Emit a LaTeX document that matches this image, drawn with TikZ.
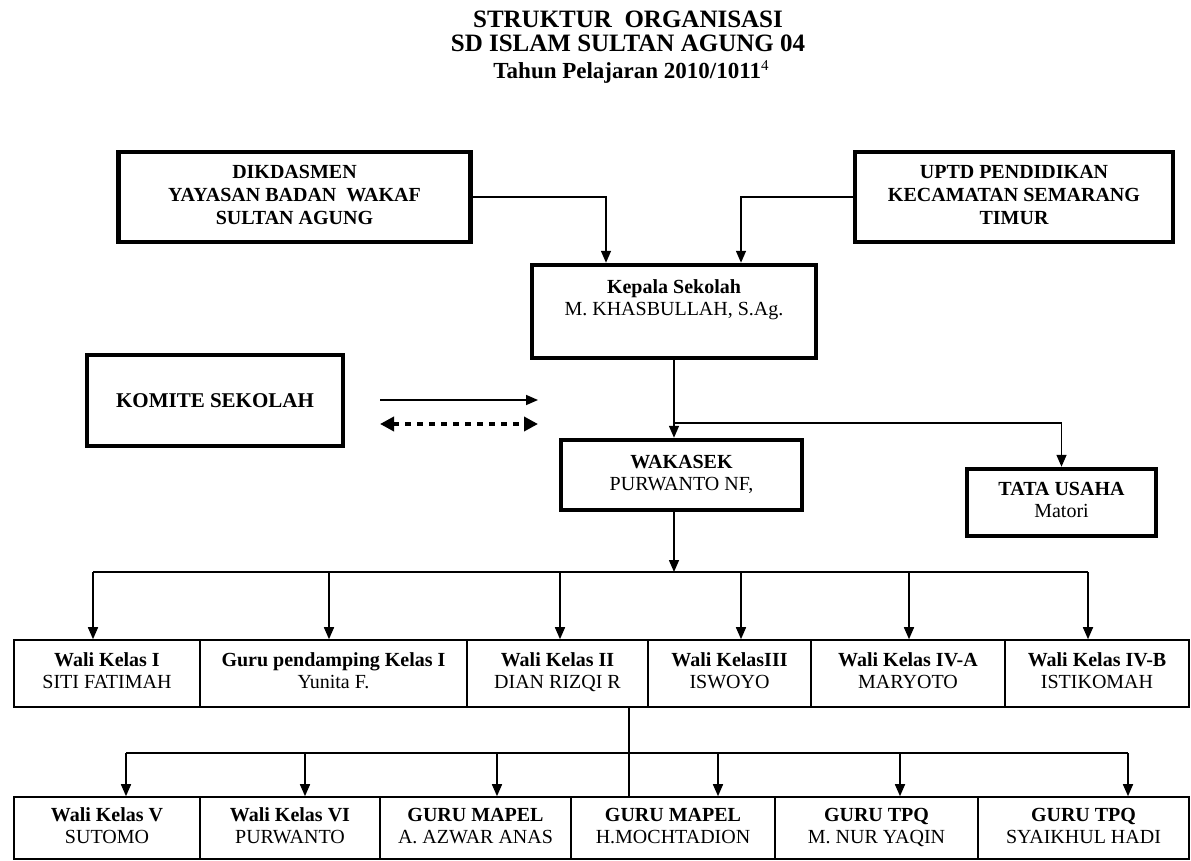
\documentclass[tikz,border=0pt]{standalone}
\usepackage{fontspec}
\setmainfont{Liberation Serif}
\usetikzlibrary{arrows.meta,positioning}

\newcommand{\isi}[2]{\textbf{#1}\strut\\#2\strut}

\begin{document}
\begin{tikzpicture}[x=1pt,y=-1pt,line width=1.6pt,
  font=\fontsize{20}{22}\selectfont,
  >={Triangle[length=12pt,width=10pt]},
  title/.style={anchor=base,inner sep=1pt,font=\fontsize{25}{28}\selectfont\bfseries},
  head box/.style={draw,line width=4.5pt,align=center,inner sep=0pt},
  row box/.style={draw,line width=1.6pt,align=center,inner sep=0pt,minimum height=#1}]

  \useasboundingbox (0,0) rectangle (1191,861);

  % judul
  \node[title] (t1) at (628,28) {STRUKTUR\ \ ORGANISASI};
  \node[title] (t2) at (628,52) {SD ISLAM SULTAN AGUNG 04};
  \node[title,font=\fontsize{23}{26}\selectfont\bfseries] (t3) at (631,79)
    {Tahun Pelajaran 2010/1011\raisebox{8pt}{\fontsize{15}{15}\selectfont\mdseries 4}};

  % atas
  \node[head box,minimum width=352,minimum height=90,font=\fontsize{20}{23}\selectfont\bfseries] (dik) at (294.5,197)
    {DIKDASMEN\strut\\YAYASAN BADAN\ \ WAKAF\strut\\SULTAN AGUNG\strut};
  \node[head box,minimum width=318,minimum height=90,font=\fontsize{20}{23}\selectfont\bfseries] (uptd) at (1014,197)
    {UPTD PENDIDIKAN\strut\\KECAMATAN SEMARANG\strut\\TIMUR\strut};
  \node[head box,minimum width=284,minimum height=93] (kep) at (674,311.5)
    {\isi{Kepala Sekolah}{M. KHASBULLAH, S.Ag.}\\ \strut};
  \node[head box,minimum width=256,minimum height=91,font=\fontsize{21}{24}\selectfont\bfseries] (kom) at (215,400.5)
    {KOMITE SEKOLAH};
  \node[head box,minimum width=241,minimum height=70] (wak) at (681.5,475)
    {\isi{WAKASEK}{PURWANTO NF,}};
  \node[head box,minimum width=189,minimum height=67] (tu) at (1061.5,502.5)
    {\isi{TATA USAHA}{Matori}};

  % baris 1
  \node[row box=67,minimum width=186] (r1) at (107,673.5) {\isi{Wali Kelas I}{SITI FATIMAH}};
  \node[row box=67,minimum width=267] (r2) at (333.5,673.5) {\isi{Guru pendamping Kelas I}{Yunita F.}};
  \node[row box=67,minimum width=181] (r3) at (557.5,673.5) {\isi{Wali Kelas II}{DIAN RIZQI R}};
  \node[row box=67,minimum width=163] (r4) at (729.5,673.5) {\isi{Wali KelasIII}{ISWOYO}};
  \node[row box=67,minimum width=194] (r5) at (908,673.5) {\isi{Wali Kelas IV-A}{MARYOTO}};
  \node[row box=67,minimum width=184] (r6) at (1097,673.5) {\isi{Wali Kelas IV-B}{ISTIKOMAH}};

  % baris 2
  \node[row box=62,minimum width=186] (s1) at (107,828) {\isi{Wali Kelas V}{SUTOMO}};
  \node[row box=62,minimum width=180] (s2) at (290,828) {\isi{Wali Kelas VI}{PURWANTO}};
  \node[row box=62,minimum width=191] (s3) at (475.5,828) {\isi{GURU MAPEL}{A. AZWAR ANAS}};
  \node[row box=62,minimum width=204] (s4) at (673,828) {\isi{GURU MAPEL}{H.MOCHTADION}};
  \node[row box=62,minimum width=203] (s5) at (876.5,828) {\isi{GURU TPQ}{M. NUR YAQIN}};
  \node[row box=62,minimum width=211] (s6) at (1083.5,828) {\isi{GURU TPQ}{SYAIKHUL HADI}};

  % titik bantu
  \coordinate (in1) at (606,0);
  \coordinate (in2) at (741,0);
  \coordinate (split) at (674,423);
  \coordinate (drop) at (629,0);
  \coordinate (ka) at (380,400);
  \coordinate (kb) at (538,400);
  \coordinate (kc) at (380,424);
  \coordinate (kd) at (538,424);
  \coordinate (b1) at (93,572);
  \coordinate (b2) at (329,572);
  \coordinate (b3) at (560,572);
  \coordinate (b4) at (741,572);
  \coordinate (b5) at (909,572);
  \coordinate (b6) at (1088,572);
  \coordinate (c1) at (126,753);
  \coordinate (c2) at (305,753);
  \coordinate (c3) at (497,753);
  \coordinate (c4) at (718,753);
  \coordinate (c5) at (900,753);
  \coordinate (c6) at (1128,753);

  % garis
  \draw[->] (dik.east) -| (in1 |- kep.north);
  \draw[->] (uptd.west) -| (in2 |- kep.north);
  \draw[->] (kep.south) -- (kep.south |- wak.north);
  \draw[->] (split) -| (tu.north);
  \draw[->] (ka) -- (kb);
  \draw[{Triangle[length=14pt,width=14pt]}-{Triangle[length=14pt,width=14pt]},line width=4.5pt,dash pattern=on 6pt off 6pt] (kc) -- (kd);

  \draw[->] (kep.south |- wak.south) -- (kep.south |- b1);
  \draw (b1) -- (b6);
  \draw[->] (b1) -- (b1 |- r1.north);
  \draw[->] (b2) -- (b2 |- r2.north);
  \draw[->] (b3) -- (b3 |- r3.north);
  \draw[->] (b4) -- (b4 |- r4.north);
  \draw[->] (b5) -- (b5 |- r5.north);
  \draw[->] (b6) -- (b6 |- r6.north);

  \draw (drop |- r3.south) -- (drop |- s4.north);
  \draw (c1) -- (c6);
  \draw[->] (c1) -- (c1 |- s1.north);
  \draw[->] (c2) -- (c2 |- s2.north);
  \draw[->] (c3) -- (c3 |- s3.north);
  \draw[->] (c4) -- (c4 |- s4.north);
  \draw[->] (c5) -- (c5 |- s5.north);
  \draw[->] (c6) -- (c6 |- s6.north);
\end{tikzpicture}
\end{document}
